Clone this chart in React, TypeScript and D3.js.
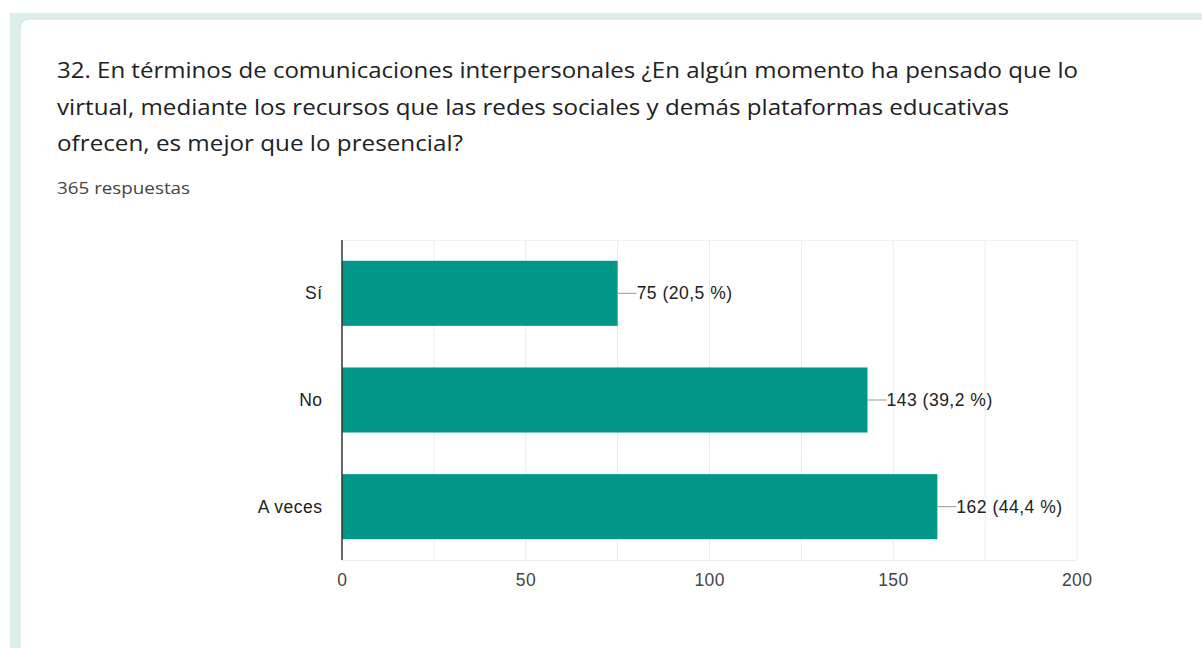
import React from "react";
import * as d3 from "d3";

const titleLines = [
  "32. En términos de comunicaciones interpersonales ¿En algún momento ha pensado que lo",
  "virtual, mediante los recursos que las redes sociales y demás plataformas educativas",
  "ofrecen, es mejor que lo presencial?",
];
const titleWidths = [1021, 952, 406];
const subtitle = "365 respuestas";
const categories = ["Sí", "No", "A veces"];
const values = [75, 143, 162];
const percents = ["20,5", "39,2", "44,4"];
const xTicks = [0, 50, 100, 150, 200];
const gridTicks = [25, 50, 75, 100, 125, 150, 175];

export default function App() {
  const W = 1202, H = 648;
  const x = d3.scaleLinear().domain([0, 200]).range([342, 1077]);
  const y = d3.scaleBand().domain(categories).range([240, 560]).paddingInner(0.39).paddingOuter(0.195);
  const font = "Arial, 'Liberation Sans', sans-serif";
  const fs = 17.5;
  const ls = 0.5;
  return (
    <svg width={W} height={H} style={{ position: "absolute", left: 0, top: 0 }}>
      <rect x={0} y={0} width={W} height={H} fill="#fff" />
      <rect x={10} y={13} width={W} height={H} fill="#dcefed" />
      <rect x={20} y={19} width={W} height={H + 20} rx={9} fill="#fff" stroke="#d6dfdd" strokeWidth={1} />
      {titleLines.map((t, i) => (
        <text key={i} x={57} y={78 + i * 36.5} fontFamily="'Open Sans', sans-serif" fontSize={21.5} fill="#202124"
          textLength={titleWidths[i]} lengthAdjust="spacingAndGlyphs">{t}</text>
      ))}
      <text x={57} y={194} fontFamily="'Open Sans', sans-serif" fontSize={15.5} fill="#444"
        textLength={133} lengthAdjust="spacingAndGlyphs">{subtitle}</text>
      {gridTicks.map((g) => (
        <line key={g} x1={x(g)} x2={x(g)} y1={240} y2={560} stroke="#ebebeb" strokeWidth={1} />
      ))}
      <line x1={342} x2={1077} y1={240.5} y2={240.5} stroke="#f0f0f0" />
      <line x1={342} x2={1077} y1={560.5} y2={560.5} stroke="#ebebeb" />
      <line x1={1077} x2={1077} y1={240} y2={560} stroke="#ebebeb" />
      {categories.map((c, i) => {
        const yy = y(c)!;
        const bw = y.bandwidth();
        const xe = x(values[i]);
        return (
          <g key={c}>
            <rect x={x(0)} y={yy} width={xe - x(0)} height={bw} fill="#009688" />
            <line x1={xe} x2={xe + 19} y1={yy + bw / 2} y2={yy + bw / 2} stroke="#999" strokeWidth={1} />
            <text x={xe + 19} y={yy + bw / 2 + 6} fontFamily={font} fontSize={fs} letterSpacing={ls} fill="#222">
              {`${values[i]} (${percents[i]} %)`}
            </text>
            <text x={322.5} y={yy + bw / 2 + 6} textAnchor="end" fontFamily={font} fontSize={fs} letterSpacing={ls} fill="#222">{c}</text>
          </g>
        );
      })}
      <line x1={342} x2={342} y1={240} y2={560} stroke="#333" strokeWidth={1.5} />
      {xTicks.map((t) => (
        <text key={t} x={x(t) + 0.25} y={586} textAnchor="middle" fontFamily={font} fontSize={fs} letterSpacing={ls} fill="#444">{t}</text>
      ))}
    </svg>
  );
}
